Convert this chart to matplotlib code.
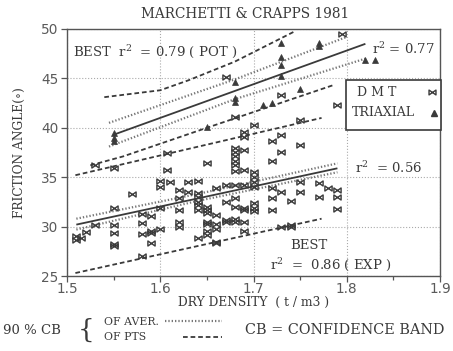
import matplotlib
matplotlib.use("Agg")
import matplotlib.pyplot as plt
from matplotlib.path import Path
from matplotlib.lines import Line2D
from matplotlib.patches import Rectangle
import numpy as np

plt.rcParams['mathtext.fontset'] = 'custom'
plt.rcParams['mathtext.rm'] = 'DejaVu Serif'
plt.rcParams['mathtext.default'] = 'rm'

SERIF = ['DejaVu Serif']
INK = '#3a3a3a'

# ---- data -------------------------------------------------------------
# DMT (dilatometer) estimates: dry density (t/m3) and friction angle (deg)
dmt_density = [
    1.51, 1.51, 1.515, 1.52,
    1.53, 1.53,
    1.55, 1.55, 1.55, 1.55, 1.55, 1.55,
    1.57,
    1.58, 1.58, 1.58, 1.58,
    1.59, 1.59, 1.59, 1.59,
    1.607, 1.607, 1.60, 1.60, 1.60, 1.60,
    1.61,
    1.62, 1.62, 1.62, 1.62, 1.62,
    1.63, 1.63,
    1.64, 1.64, 1.64, 1.64, 1.64, 1.64, 1.64,
    1.65, 1.65, 1.65, 1.65, 1.65, 1.65, 1.65, 1.65,
    1.66, 1.66, 1.66, 1.66, 1.66, 1.66,
    1.67, 1.67, 1.67, 1.67, 1.67,
    1.68, 1.68, 1.68, 1.68, 1.68, 1.68, 1.68, 1.68, 1.68, 1.68, 1.68, 1.68,
    1.69, 1.69, 1.69, 1.69, 1.69, 1.69, 1.69, 1.69, 1.69,
    1.70, 1.70, 1.70, 1.70, 1.70, 1.70, 1.70, 1.70,
    1.72, 1.72, 1.72, 1.72, 1.72,
    1.73, 1.73, 1.73, 1.73, 1.73,
    1.74, 1.74, 1.74,
    1.75, 1.75, 1.75, 1.75,
    1.77, 1.77,
    1.78,
    1.79, 1.79, 1.79, 1.79,
    1.795,
]
dmt_phi = [
    29.0, 28.6, 28.8, 29.5,
    30.2, 36.2,
    35.9, 31.9, 30.2, 29.4, 28.2, 28.0,
    33.3,
    31.3, 30.4, 29.3, 27.0,
    31.1, 29.6, 29.4, 28.3,
    37.4, 35.7, 34.6, 34.0, 31.9, 29.8,
    34.5,
    33.7, 32.9, 31.7, 30.5, 30.0,
    33.5, 34.5,
    34.6, 33.4, 33.0, 32.5, 32.2, 31.7, 28.8,
    36.4, 32.0, 31.4, 31.7, 30.5, 30.3, 29.6, 29.2,
    33.9, 31.2, 30.3, 29.8, 28.4, 28.3,
    45.1, 34.2, 32.5, 30.7, 30.5,
    41.1, 38.0, 37.6, 37.1, 36.6, 36.2, 35.6, 34.2, 32.9, 32.0, 30.8, 30.5,
    39.6, 39.1, 37.8, 35.7, 34.2, 31.9, 31.7, 30.5, 29.6,
    40.3, 35.5, 35.0, 34.5, 34.0, 32.4, 31.9, 31.6,
    38.7, 36.6, 33.9, 32.9, 31.7,
    43.3, 39.3, 37.5, 33.5, 30.0,
    32.6, 30.2, 30.0,
    40.8, 38.3, 34.5, 33.5,
    34.4, 33.0,
    33.9,
    42.3, 33.7, 33.0, 31.8,
    49.5,
]

# Triaxial test results
tri_density = [1.55, 1.55, 1.55, 1.65, 1.68, 1.68, 1.68, 1.71, 1.72,
               1.73, 1.73, 1.73, 1.73, 1.75, 1.77, 1.77, 1.82, 1.83]
tri_phi = [39.5, 39.0, 38.7, 40.1, 44.6, 43.0, 42.6, 42.3, 42.5,
           48.6, 47.2, 46.4, 45.2, 43.9, 48.6, 48.3, 46.9, 46.9]

# Best-fit curves and 90 % confidence bands
tri_fit_x, tri_fit_y = [1.55, 1.82], [39.3, 48.5]
tri_avg_hi_x, tri_avg_hi_y = [1.545, 1.68, 1.80], [40.5, 44.9, 49.2]
tri_avg_lo_x, tri_avg_lo_y = [1.545, 1.68, 1.82], [38.1, 42.9, 47.0]
tri_pts_hi_x, tri_pts_hi_y = [1.54, 1.60, 1.63, 1.68, 1.745], [43.1, 43.8, 44.8, 46.7, 49.8]
tri_pts_lo_x, tri_pts_lo_y = [1.525, 1.56, 1.65, 1.785], [36.2, 37.1, 40.0, 44.3]

dmt_fit_x, dmt_fit_y = [1.51, 1.79], [30.2, 35.9]
dmt_avg_hi_x, dmt_avg_hi_y = [1.51, 1.64, 1.79], [30.8, 33.3, 36.4]
dmt_avg_lo_x, dmt_avg_lo_y = [1.51, 1.64, 1.79], [29.7, 32.6, 35.5]
dmt_pts_hi_x, dmt_pts_hi_y = [1.509, 1.773], [35.2, 41.0]
dmt_pts_lo_x, dmt_pts_lo_y = [1.509, 1.773], [25.3, 30.8]

x_ticks = [1.5, 1.6, 1.7, 1.8, 1.9]
y_ticks = [25, 30, 35, 40, 45, 50]

# ---- figure -----------------------------------------------------------
W, H = 453, 351
fig = plt.figure(figsize=(W / 100, H / 100), dpi=100)
ax = fig.add_axes([67 / W, 1 - 276 / H, (440 - 67) / W, (276 - 29) / H])

def fx(px):
    return px / W

def fy(py):
    return 1 - py / H

# bow-tie marker used for the DMT points
bowtie = Path([(-1, 0.7), (1, -0.7), (1, 0.7), (-1, -0.7), (-1, 0.7)],
              [Path.MOVETO, Path.LINETO, Path.LINETO, Path.LINETO, Path.CLOSEPOLY])

solid_kw = dict(color=INK, lw=1.3, solid_capstyle='butt')
avg_kw = dict(color='#777777', lw=1.6, linestyle=(0, (0.6, 0.9)))
pts_kw = dict(color=INK, lw=1.3, linestyle=(0, (2.6, 1.6)))

for xs, ys, kw in [
    (tri_fit_x, tri_fit_y, solid_kw),
    (tri_avg_hi_x, tri_avg_hi_y, avg_kw),
    (tri_avg_lo_x, tri_avg_lo_y, avg_kw),
    (tri_pts_hi_x, tri_pts_hi_y, pts_kw),
    (tri_pts_lo_x, tri_pts_lo_y, pts_kw),
    (dmt_fit_x, dmt_fit_y, solid_kw),
    (dmt_avg_hi_x, dmt_avg_hi_y, avg_kw),
    (dmt_avg_lo_x, dmt_avg_lo_y, avg_kw),
    (dmt_pts_hi_x, dmt_pts_hi_y, pts_kw),
    (dmt_pts_lo_x, dmt_pts_lo_y, pts_kw),
]:
    ax.plot(xs, ys, **kw)

ax.plot(dmt_density, dmt_phi, linestyle='none', marker=bowtie, markersize=5.2,
        markerfacecolor='none', markeredgecolor=INK, markeredgewidth=1.0)
ax.plot(tri_density, tri_phi, linestyle='none', marker='^', markersize=5,
        color=INK, markeredgewidth=0.5)

ax.set_xlim(1.5, 1.9)
ax.set_ylim(25, 50)
ax.set_xticks(x_ticks)
ax.set_xticklabels([f"{v:.1f}" for v in x_ticks])
ax.set_yticks(y_ticks)
ax.set_yticklabels([str(v) for v in y_ticks])
ax.set_xticks(np.arange(1.55, 1.9, 0.1), minor=True)
ax.tick_params(axis='both', which='major', labelsize=9.8, labelcolor='#5a5a5a',
               color='#555555', length=4, width=0.9, pad=2)
ax.tick_params(axis='x', which='major', pad=0.5)
ax.tick_params(axis='x', which='minor', length=3, width=0.9, color='#555555')
for lab in ax.get_xticklabels() + ax.get_yticklabels():
    lab.set_family('DejaVu Sans')
ax.grid(True, which='major', linestyle=':', color='#aaaaaa', lw=0.8)
for sp in ax.spines.values():
    sp.set_color('#555555')
    sp.set_linewidth(1.0)

ax.set_xlabel('DRY DENSITY  ( t / m3 )', family=SERIF, fontsize=8.8, color=INK)
ax.xaxis.set_label_coords(0.5, (276 - 302.5) / 247)
ax.xaxis.label.set_va('center')
ax.set_ylabel('FRICTION ANGLE(\u2218)', family=SERIF, fontsize=8.8, color=INK)
ax.yaxis.set_label_coords((19 - 67) / 373, 0.5)
ax.yaxis.label.set_va('center')

fig.text(fx(245), fy(14), 'MARCHETTI & CRAPPS 1981', family=SERIF,
         fontsize=9.8, color=INK, ha='center', va='center')

# regression annotations
ann_kw = dict(family=SERIF, fontsize=9.5, color=INK, va='center', ha='left')
ax.text(1.506, 47.7, 'BEST  r$^{2}$  = 0.79 ( POT )', **ann_kw)
ax.text(1.827, 48.0, 'r$^{2}$ = 0.77', **ann_kw)
ax.text(1.809, 35.9, 'r$^{2}$  = 0.56', **ann_kw)
ax.text(1.739, 28.1, 'BEST', **ann_kw)
ax.text(1.718, 26.2, 'r$^{2}$  =  0.86 ( EXP )', **ann_kw)

# key box
x0, x1 = (346 - 67) / 373, (441 - 67) / 373
y0, y1 = (276 - 130) / 247, (276 - 80) / 247
ax.add_patch(Rectangle((x0, y0), x1 - x0, y1 - y0, transform=ax.transAxes,
                       facecolor='white', edgecolor=INK, lw=1.2, zorder=5,
                       clip_on=False))
ax.text((357 - 67) / 373, (276 - 92) / 247, 'D M T', transform=ax.transAxes,
        family=SERIF, fontsize=9, color=INK, va='center', zorder=6)
ax.text((352 - 67) / 373, (276 - 113) / 247, 'TRIAXIAL', transform=ax.transAxes,
        family=SERIF, fontsize=9, color=INK, va='center', zorder=6)
ax.plot([(432 - 67) / 373], [(276 - 92) / 247], transform=ax.transAxes,
        marker=bowtie, markersize=5, markerfacecolor='none', markeredgecolor=INK,
        markeredgewidth=1.0, linestyle='none', zorder=6, clip_on=False)
ax.plot([(434 - 67) / 373], [(276 - 113) / 247], transform=ax.transAxes,
        marker='^', markersize=5, color=INK, linestyle='none', zorder=6,
        clip_on=False)

# band key under the chart
foot_kw = dict(family=SERIF, color=INK, va='center', ha='left')
fig.text(fx(3), fy(330), '90 % CB', fontsize=9.5, **foot_kw)
fig.text(fx(78), fy(330), '{', fontsize=19, fontweight='light', **foot_kw)
fig.text(fx(104), fy(322), 'OF AVER.', fontsize=7.8, **foot_kw)
fig.text(fx(104), fy(337), 'OF PTS', fontsize=7.8, **foot_kw)
fig.add_artist(Line2D([fx(165), fx(222)], [fy(321), fy(321)], **avg_kw))
fig.add_artist(Line2D([fx(183), fx(222)], [fy(337), fy(337)], **pts_kw))
fig.text(fx(245), fy(330), 'CB = CONFIDENCE BAND', fontsize=10.4, **foot_kw)

fig.savefig('out.png', dpi=100)
